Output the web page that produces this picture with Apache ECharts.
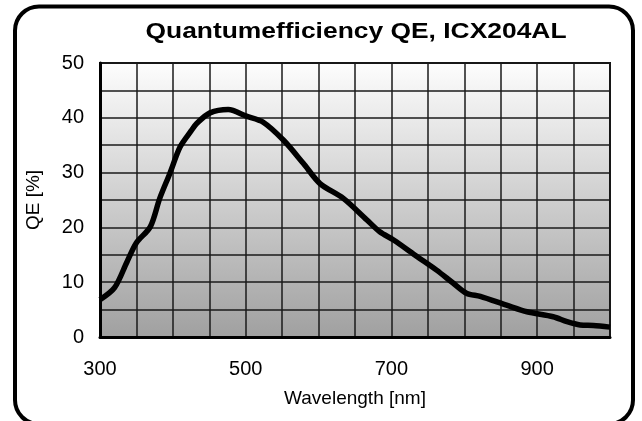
<!DOCTYPE html>
<html>
<head>
<meta charset="utf-8">
<script src="https://cdn.jsdelivr.net/npm/echarts@6/dist/echarts.min.js"></script>
<style>html,body{margin:0;padding:0;background:#fff;}#c{width:642px;height:421px;}</style>
</head>
<body>
<div id="c"></div>
<script>
const titleText = 'Quantumefficiency QE, ICX204AL';
const xAxisName = 'Wavelength [nm]';
const yAxisName = 'QE [%]';
const wavelengths = [300, 320, 337, 350, 369, 382, 396, 410, 425, 433, 451, 476, 501, 524, 552, 579, 602, 634, 666, 684, 703, 735, 762, 785, 803, 822, 858, 886, 922, 941, 959, 977, 1000];
const qe = [6.8, 9.0, 13.7, 17.2, 20.1, 25.3, 29.9, 34.7, 37.6, 39.0, 40.9, 41.5, 40.3, 39.2, 35.9, 31.7, 28.0, 25.3, 21.4, 19.2, 17.7, 14.7, 12.2, 9.8, 8.0, 7.4, 5.8, 4.6, 3.7, 2.8, 2.2, 2.1, 1.8];
const xTickLabels = [300, 500, 700, 900];
const yTickLabels = [0, 10, 20, 30, 40, 50];

const chart = echarts.init(document.getElementById('c'), null, {renderer: 'canvas'});
const font = '"Liberation Sans", Arial, sans-serif';
chart.setOption({
  animation: false,
  backgroundColor: '#fff',
  graphic: [
    {type: 'rect', shape: {x: 15, y: 6.5, width: 618, height: 417.5, r: 24}, style: {fill: 'none', stroke: '#000', lineWidth: 4}, z: 10},
    {type: 'text', x: 356, y: 32, scaleX: 1.2, style: {text: titleText, font: 'bold 22px ' + font, fill: '#000', textAlign: 'center', textVerticalAlign: 'middle'}, z: 10}
  ],
  grid: {
    left: 100, right: 32, top: 63, bottom: 84,
    show: true, borderColor: '#111', borderWidth: 2,
    backgroundColor: new echarts.graphic.LinearGradient(0, 0, 0, 1, [
      {offset: 0, color: '#fdfdfd'}, {offset: 1, color: '#a0a0a0'}
    ])
  },
  xAxis: {
    type: 'value', min: 300, max: 1000, interval: 50,
    name: xAxisName, nameLocation: 'middle', nameGap: 52,
    nameTextStyle: {fontFamily: font, fontSize: 19, color: '#000'},
    axisLine: {show: true, lineStyle: {color: '#000', width: 3}},
    axisTick: {show: false},
    axisLabel: {
      margin: 22, fontFamily: font, fontSize: 20, color: '#000',
      formatter: v => xTickLabels.includes(v) ? String(v) : ''
    },
    splitLine: {show: true, lineStyle: {color: '#1a1a1a', width: 1.5}}
  },
  yAxis: {
    type: 'value', min: 0, max: 50, interval: 5,
    name: yAxisName, nameLocation: 'middle', nameGap: 57, nameRotate: 90,
    nameTextStyle: {fontFamily: font, fontSize: 19, color: '#000'},
    axisLine: {show: true, lineStyle: {color: '#000', width: 3}},
    axisTick: {show: false},
    axisLabel: {
      margin: 16, fontFamily: font, fontSize: 20, color: '#000',
      formatter: v => yTickLabels.includes(v) ? String(v) : ''
    },
    splitLine: {show: true, lineStyle: {color: '#1a1a1a', width: 1.5}}
  },
  series: [{
    type: 'line',
    data: wavelengths.map((w, i) => [w, qe[i]]),
    showSymbol: false,
    smooth: 0.3,
    lineStyle: {color: '#000', width: 5.5},
    clip: true
  }]
});
</script>
</body>
</html>
